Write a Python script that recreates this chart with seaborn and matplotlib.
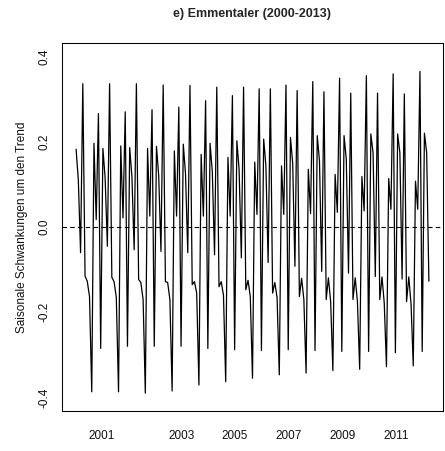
import numpy as np
import pandas as pd
import matplotlib
matplotlib.use("Agg")
import matplotlib.pyplot as plt
import seaborn as sns

# Seasonal component (deviation from trend), monthly, Jan 2000 - Mar 2013
y2000 = [0.183, 0.110, -0.060, 0.337, -0.115, -0.127, -0.163, -0.387, 0.197, 0.018, 0.267, -0.285]
y2001 = [0.185, 0.115, -0.045, 0.337, -0.118, -0.128, -0.165, -0.387, 0.191, 0.022, 0.271, -0.280]
y2002 = [0.187, 0.118, -0.053, 0.337, -0.123, -0.130, -0.170, -0.390, 0.185, 0.026, 0.276, -0.280]
y2003 = [0.190, 0.120, -0.057, 0.334, -0.128, -0.130, -0.170, -0.385, 0.179, 0.026, 0.282, -0.280]
y2004 = [0.195, 0.125, -0.060, 0.333, -0.135, -0.128, -0.155, -0.371, 0.171, 0.026, 0.297, -0.285]
y2005 = [0.197, 0.130, -0.065, 0.329, -0.140, -0.128, -0.160, -0.363, 0.164, 0.026, 0.309, -0.288]
y2006 = [0.203, 0.135, -0.072, 0.329, -0.147, -0.125, -0.163, -0.355, 0.153, 0.030, 0.325, -0.290]
y2007 = [0.207, 0.144, -0.083, 0.325, -0.155, -0.130, -0.165, -0.347, 0.144, 0.030, 0.334, -0.288]
y2008 = [0.211, 0.150, -0.092, 0.321, -0.163, -0.120, -0.170, -0.343, 0.136, 0.032, 0.342, -0.290]
y2009 = [0.215, 0.155, -0.104, 0.318, -0.170, -0.119, -0.175, -0.337, 0.124, 0.035, 0.350, -0.292]
y2010 = [0.215, 0.160, -0.108, 0.315, -0.170, -0.119, -0.175, -0.334, 0.119, 0.038, 0.356, -0.292]
y2011 = [0.219, 0.175, -0.116, 0.315, -0.170, -0.117, -0.178, -0.328, 0.114, 0.042, 0.360, -0.295]
y2012 = [0.219, 0.175, -0.122, 0.313, -0.175, -0.117, -0.180, -0.326, 0.108, 0.042, 0.366, -0.292]
y2013 = [0.221, 0.175, -0.127]

tick_pos = [2000.95, 2003.93, 2005.93, 2007.94, 2009.96, 2011.95]
tick_labels = ["2001", "2003", "2005", "2007", "2009", "2011"]
ytick_vals = [-0.4, -0.2, 0.0, 0.2, 0.4]
ytick_labels = ["-0.4", "-0.2", "0.0", "0.2", "0.4"]

values = (y2000 + y2001 + y2002 + y2003 + y2004 + y2005 + y2006 + y2007
          + y2008 + y2009 + y2010 + y2011 + y2012 + y2013)
time = 2000 + np.arange(len(values)) / 12.0
df = pd.DataFrame({"time": time, "saison": values})

sns.set_style("white")
plt.rcParams["font.family"] = ["Liberation Sans", "DejaVu Sans"]

fig = plt.figure(figsize=(4.45, 4.51), dpi=100)
ax = fig.add_axes([62 / 445, 40 / 451, 381 / 445, 367.7 / 451])

sns.lineplot(data=df, x="time", y="saison", ax=ax, color="black",
             linewidth=0.9, estimator=None)
ax.axhline(0, color="black", linestyle=(0, (4, 3)), linewidth=0.8)

span = time[-1] - time[0]
ax.set_xlim(time[0] - 0.04 * span, time[-1] + 0.04 * span)
ax.set_ylim(-0.432, 0.432)

ax.set_xticks(tick_pos)
ax.set_xticklabels(tick_labels)
ax.set_yticks(ytick_vals)
ax.set_yticklabels(ytick_labels, rotation=90, va="center")

ax.tick_params(axis="both", direction="out", length=5, width=0.75,
               color="black", labelsize=8.5, labelcolor="#111111")
ax.tick_params(axis="x", pad=8.5)
ax.tick_params(axis="y", pad=3.5)
for sp in ax.spines.values():
    sp.set_visible(True)
    sp.set_color("black")
    sp.set_linewidth(0.75)

ax.set_xlabel("")
ax.set_ylabel("Saisonale Schwankungen um den Trend", fontsize=8.5,
              color="#111111", labelpad=7.5)
ax.set_title("e) Emmentaler (2000-2013)", fontsize=9, fontweight="bold",
             pad=19)

fig.savefig("out.png", dpi=100)
